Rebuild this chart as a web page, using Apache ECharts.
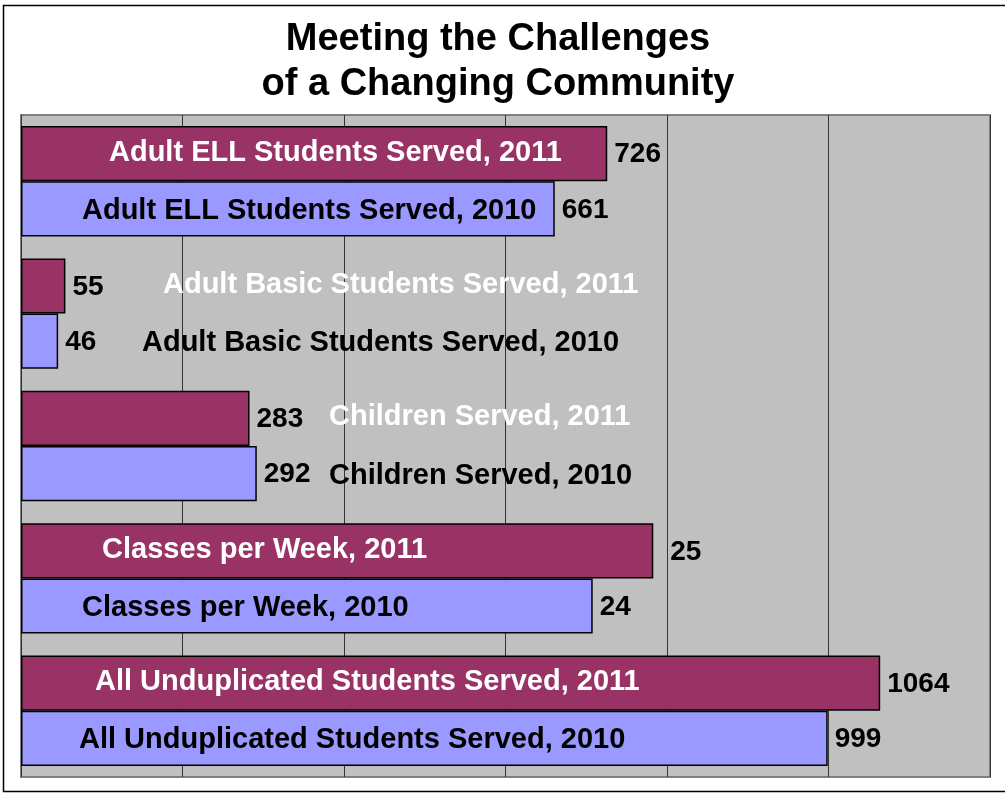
<!DOCTYPE html>
<html>
<head>
<meta charset="utf-8">
<title>Meeting the Challenges of a Changing Community</title>
<script src="https://cdn.jsdelivr.net/npm/echarts@6/dist/echarts.min.js"></script>
<style>
  html, body { margin: 0; padding: 0; background: #fff; }
  #echarts { width: 1005px; height: 793px; }
</style>
</head>
<body>
<div id="echarts"></div>
<script>
  var categories = [
    'Adult ELL Students Served',
    'Adult Basic Students Served',
    'Children Served',
    'Classes per Week',
    'All Unduplicated Students Served'
  ]
  // bar lengths as drawn (classes per week bars are drawn longer than their labels)
  var bars2011 = [726, 55, 283, 783, 1064]
  var bars2010 = [661, 46, 292, 708, 999]
  // value labels shown at bar ends
  var labels2011 = ['726', '55', '283', '25', '1064']
  var labels2010 = ['661', '46', '292', '24', '999']
  var xTicks = [0, 200, 400, 600, 800, 1000, 1200]

  var font = '"Liberation Sans", Arial, sans-serif'

  // where the name text sits, px from the bar start
  var nameShift2011 = [83, 137, 303, 76, 69]
  var nameShift2010 = [56, 116, 303, 56, 53]
  var valueShift2011 = [0, 0, 0, 10, 0]

  function valueSeries (name, values, texts, color, shifts) {
    return {
      name: name,
      type: 'bar',
      yAxisIndex: 0,
      barGap: '0%',
      barCategoryGap: '16.6%',
      itemStyle: { color: color, borderColor: '#000', borderWidth: 1.5 },
      label: {
        show: true,
        position: 'right',
        distance: 7,
        offset: [0, 1],
        color: '#000',
        fontSize: 28,
        fontWeight: 'bold',
        fontFamily: font,
        formatter: function (p) { return texts[p.dataIndex] }
      },
      data: values.map(function (v, i) {
        return shifts ? { value: v, label: { offset: [shifts[i], 1] } } : v
      })
    }
  }

  function nameSeries (year, values, shifts, textColor, dy) {
    return {
      name: 'names ' + year,
      type: 'bar',
      yAxisIndex: 1,
      barGap: '0%',
      barCategoryGap: '16.6%',
      silent: true,
      z: 5,
      itemStyle: { color: 'rgba(0,0,0,0)', borderWidth: 0 },
      label: {
        show: true,
        position: 'insideLeft',
        color: textColor,
        fontSize: 29,
        fontWeight: 'bold',
        fontFamily: font,
        formatter: function (p) { return categories[p.dataIndex] + ', ' + year }
      },
      data: values.map(function (v, i) {
        return { value: v, label: { offset: [shifts[i], dy] } }
      })
    }
  }

  var myChart = echarts.init(document.getElementById('echarts'))
  myChart.setOption({
    animation: false,
    title: {
      text: 'Meeting the Challenges\nof a Changing Community',
      left: 493,
      textAlign: 'center',
      top: 12,
      textStyle: {
        fontSize: 38,
        fontWeight: 'bold',
        color: '#000',
        fontFamily: font,
        lineHeight: 45
      }
    },
    graphic: [
      {
        type: 'rect',
        shape: { x: 3.5, y: 5.5, width: 1010, height: 786 },
        style: { fill: 'none', stroke: '#000', lineWidth: 1.5 },
        silent: true
      }
    ],
    grid: {
      left: 21,
      right: 15,
      top: 115,
      bottom: 16,
      show: true,
      backgroundColor: '#c0c0c0',
      borderColor: '#808080',
      borderWidth: 2
    },
    xAxis: {
      type: 'value',
      min: xTicks[0],
      max: xTicks[xTicks.length - 1],
      interval: xTicks[1] - xTicks[0],
      axisLabel: { show: false },
      axisTick: { show: false },
      axisLine: { show: false },
      splitLine: { show: true, lineStyle: { color: '#333', width: 1 } }
    },
    yAxis: [
      {
        type: 'category',
        data: categories,
        inverse: true,
        show: false
      },
      {
        type: 'category',
        data: categories,
        inverse: true,
        show: false
      }
    ],
    series: [
      valueSeries('2011', bars2011, labels2011, '#993366', valueShift2011),
      valueSeries('2010', bars2010, labels2010, '#9999ff', null),
      nameSeries('2011', bars2011, nameShift2011, '#fff', -1),
      nameSeries('2010', bars2010, nameShift2010, '#000', 2)
    ]
  })
</script>
</body>
</html>
